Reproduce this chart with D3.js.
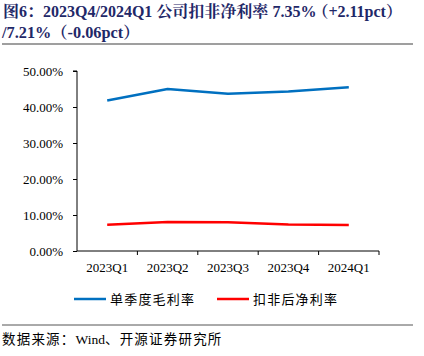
<!DOCTYPE html>
<html><head><meta charset="utf-8">
<script src="https://cdn.jsdelivr.net/npm/d3@7"></script>
<style>
body{margin:0;background:#fff;}
text{font-family:"Liberation Serif","Times New Roman","Noto Serif CJK SC","Noto Sans CJK SC",serif;}
</style></head><body>
<script>
const categories=["2023Q1","2023Q2","2023Q3","2023Q4","2024Q1"];
const grossMargin=[0.418,0.450,0.437,0.443,0.455];
const netMargin=[0.0727,0.0805,0.0798,0.0735,0.0721];
const yTicks=[0,0.1,0.2,0.3,0.4,0.5];
const seriesNames=["单季度毛利率","扣非后净利率"];
const colors=["#0070C0","#FF0000"];

const W=424,H=356;
const svg=d3.select("body").append("svg").attr("width",W).attr("height",H);
const m={l:77,r:379,t:71,b:251};
const x=d3.scaleBand().domain(categories).range([m.l,m.r]).padding(0);
const y=d3.scaleLinear().domain([0,0.5]).range([m.b,m.t]);

// title
const tc="#1F2868";
const t1=svg.append("text").attr("x",3).attr("y",17).attr("fill",tc).style("font-size","16px").style("font-weight","bold");
t1.append("tspan").text("图6：");
t1.append("tspan").text("2023Q4/2024Q1 ");
t1.append("tspan").text("公司扣非净利率");
t1.append("tspan").text(" 7.35%");
t1.append("tspan").attr("dx",-4).text("（+2.11pct）");
svg.append("text").attr("x",2).attr("y",38).attr("fill",tc).style("font-size","16.3px").style("font-weight","bold").text("/7.21%（-0.06pct）");
svg.append("line").attr("x1",2).attr("x2",413).attr("y1",44).attr("y2",44).attr("stroke","#7f7f7f").attr("stroke-width",1.5);

// axes
const ya=d3.axisLeft(y).tickValues(yTicks).tickFormat(d=>(d*100).toFixed(2)+"%").tickSize(4).tickPadding(10);
const gy=svg.append("g").attr("transform",`translate(${m.l},0)`).call(ya);
gy.select(".domain").attr("stroke","#000").attr("d",`M-4,${m.t}H0V${m.b}`);
gy.selectAll(".tick line").attr("stroke","#000").attr("x1",-4).attr("x2",0);
gy.selectAll("text").style("font-size","13px").attr("fill","#000").style("font-family","Liberation Serif");

const xa=d3.axisBottom(x).tickSize(0).tickPadding(12);
const gx=svg.append("g").attr("transform",`translate(0,${m.b})`).call(xa);
gx.select(".domain").attr("stroke","#000").attr("d",`M${m.l},0H${m.r}`);
gx.selectAll("text").style("font-size","13px").attr("fill","#000").style("font-family","Liberation Serif");
gx.selectAll(".xt").data(categories).enter().append("line").attr("class","xt")
  .attr("x1",d=>x(d)+x.bandwidth()).attr("x2",d=>x(d)+x.bandwidth()).attr("y1",0).attr("y2",4).attr("stroke","#000");

const line=d3.line().x((d,i)=>x(categories[i])+x.bandwidth()/2).y(d=>y(d));
[grossMargin,netMargin].forEach((s,i)=>{
  svg.append("path").datum(s).attr("d",line).attr("fill","none").attr("stroke",colors[i]).attr("stroke-width",2.5).attr("stroke-linejoin","round");
});

// legend
const lg=[{x:74},{x:217}];
seriesNames.forEach((n,i)=>{
  svg.append("line").attr("x1",lg[i].x).attr("x2",lg[i].x+32).attr("y1",299).attr("y2",299).attr("stroke",colors[i]).attr("stroke-width",2.5);
  svg.append("text").attr("x",lg[i].x+36).attr("y",304).style("font-size","13px").style("font-family","Noto Sans CJK SC").attr("fill","#000").style("letter-spacing","1.2px").text(n);
});

svg.append("line").attr("x1",2).attr("x2",413).attr("y1",325).attr("y2",325).attr("stroke","#555").attr("stroke-width",1);
const src=svg.append("text").attr("x",2).attr("y",344).style("font-size","13.5px").attr("fill","#000");
src.append("tspan").style("font-family","Noto Sans CJK SC").style("letter-spacing","1.2px").text("数据来源：");
src.append("tspan").text("Wind");
src.append("tspan").style("font-family","Noto Sans CJK SC").style("letter-spacing","1.2px").text("、开源证券研究所");
</script></body></html>
